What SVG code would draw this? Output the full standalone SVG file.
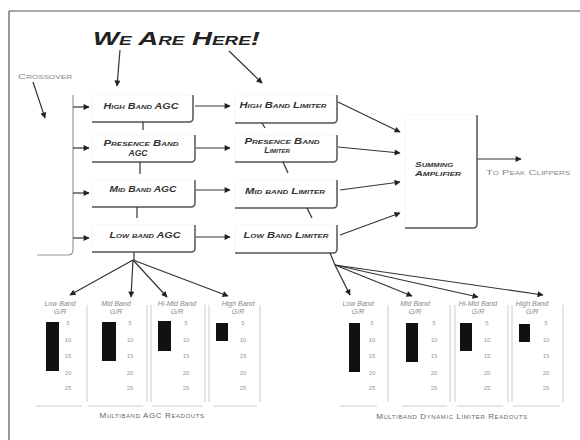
<svg xmlns="http://www.w3.org/2000/svg" width="580" height="440" viewBox="0 0 580 440">
<defs>
<marker id="ah" viewBox="0 0 10 10" refX="9" refY="5" markerWidth="7" markerHeight="6" orient="auto" markerUnits="userSpaceOnUse">
<path d="M0,0 L10,5 L0,10 z" fill="#222"/>
</marker>
<style>
.lbl{font-family:"Liberation Sans",Arial,sans-serif;font-weight:bold;font-style:italic;font-variant:small-caps;font-size:8.5px;fill:#333;text-anchor:middle}
.face{fill:#fff;stroke:#f0f0f0;stroke-width:0.6}
.edge{fill:none;stroke:#555;stroke-width:1.5}
.con{fill:none;stroke:#333;stroke-width:1.2}
.conA{fill:none;stroke:#333;stroke-width:1.2;marker-end:url(#ah)}
.gray{font-family:"Liberation Sans",Arial,sans-serif;font-variant:small-caps;fill:#888}
.rt{font-family:"Liberation Sans",Arial,sans-serif;font-style:italic;font-size:7px;fill:#888;text-anchor:middle}
.num{font-family:"Liberation Sans",Arial,sans-serif;font-size:6px;fill:#999;text-anchor:middle}
.bar{fill:#111}
.sep{stroke:#ccc;stroke-width:1}
.cap{font-family:"Liberation Sans",Arial,sans-serif;font-variant:small-caps;font-size:8px;fill:#666;text-anchor:middle;letter-spacing:0.6px}
</style>
</defs>
<rect width="580" height="440" fill="#fff"/>
<g id="frame">
<line x1="9" y1="11" x2="580" y2="11" stroke="#555" stroke-width="1.2"/>
<line x1="9" y1="11" x2="9" y2="440" stroke="#555" stroke-width="1.2"/>
</g>
<g id="title">
<text x="93" y="45" textLength="167" lengthAdjust="spacingAndGlyphs" style="font-family:'Liberation Sans',Arial,sans-serif;font-weight:bold;font-style:italic;font-variant:small-caps;font-size:19px;fill:#222">We Are Here!</text>
</g>
<g id="crossover-label">
<text class="gray" x="18" y="79" font-size="7" textLength="54" lengthAdjust="spacingAndGlyphs">Crossover</text>
</g>
<g id="crossover-bracket">
<path d="M73,95 V250 Q73,255 68,255 H37" fill="none" stroke="#999" stroke-width="1.2"/>
</g>
<g id="agc-high">
<rect class="face" x="92" y="95" width="101" height="27" rx="3"/>
<path class="edge" d="M193,95 V118 Q193,122 189,122 H92"/>
<text class="lbl" x="141" y="109" textLength="75" lengthAdjust="spacingAndGlyphs">High Band AGC</text>
</g>
<g id="agc-presence">
<rect class="face" x="92" y="135" width="103" height="27" rx="3"/>
<path class="edge" d="M195,135 V158 Q195,162 191,162 H92"/>
<text class="lbl" x="141" y="146" textLength="75" lengthAdjust="spacingAndGlyphs">Presence Band</text>
<text class="lbl" x="138" y="156">AGC</text>
</g>
<g id="agc-mid">
<rect class="face" x="92" y="180" width="103" height="27" rx="3"/>
<path class="edge" d="M195,180 V203 Q195,207 191,207 H92"/>
<text class="lbl" x="143" y="192" textLength="67" lengthAdjust="spacingAndGlyphs">Mid Band AGC</text>
</g>
<g id="agc-low">
<rect class="face" x="92" y="225" width="103" height="27" rx="3"/>
<path class="edge" d="M195,225 V248 Q195,252 191,252 H92"/>
<text class="lbl" x="145" y="238" textLength="71" lengthAdjust="spacingAndGlyphs">Low band AGC</text>
</g>
<g id="lim-high">
<rect class="face" x="235" y="95" width="102" height="28" rx="3"/>
<path class="edge" d="M337,95 V119 Q337,123 333,123 H235"/>
<text class="lbl" x="283" y="108" textLength="87" lengthAdjust="spacingAndGlyphs">High Band Limiter</text>
</g>
<g id="lim-presence">
<rect class="face" x="235" y="135" width="102" height="27" rx="3"/>
<path class="edge" d="M337,135 V158 Q337,162 333,162 H235"/>
<text class="lbl" x="282" y="144" textLength="75" lengthAdjust="spacingAndGlyphs">Presence Band</text>
<text class="lbl" x="277" y="153">Limiter</text>
</g>
<g id="lim-mid">
<rect class="face" x="235" y="180" width="102" height="28" rx="3"/>
<path class="edge" d="M337,180 V204 Q337,208 333,208 H235"/>
<text class="lbl" x="285" y="194" textLength="80" lengthAdjust="spacingAndGlyphs">Mid band Limiter</text>
</g>
<g id="lim-low">
<rect class="face" x="235" y="225" width="102" height="28" rx="3"/>
<path class="edge" d="M337,225 V249 Q337,253 333,253 H235"/>
<text class="lbl" x="286" y="238" textLength="85" lengthAdjust="spacingAndGlyphs">Low Band Limiter</text>
</g>
<g id="summing">
<rect class="face" x="405" y="115" width="72" height="113" rx="3"/>
<path class="edge" d="M477,115 V224 Q477,228 473,228 H405"/>
<text class="lbl" x="415" y="167" style="text-anchor:start;font-size:8px" textLength="38" lengthAdjust="spacingAndGlyphs">Summing</text>
<text class="lbl" x="415" y="176" style="text-anchor:start;font-size:8px" textLength="46" lengthAdjust="spacingAndGlyphs">Amplifier</text>
</g>
<g id="peak-label">
<text class="gray" x="486" y="175" font-size="7" textLength="84" lengthAdjust="spacingAndGlyphs">To Peak Clippers</text>
</g>
<g id="connectors">
<line class="conA" x1="120" y1="50" x2="117" y2="86"/>
<line class="conA" x1="229" y1="51" x2="262" y2="83"/>
<line class="conA" x1="33" y1="82" x2="45" y2="118"/>
<line class="conA" x1="73" y1="107" x2="89" y2="107"/>
<line class="conA" x1="73" y1="148" x2="89" y2="148"/>
<line class="conA" x1="73" y1="193" x2="89" y2="193"/>
<line class="conA" x1="73" y1="238" x2="89" y2="238"/>
<line class="conA" x1="195" y1="106" x2="230" y2="106"/>
<line class="conA" x1="196" y1="148" x2="230" y2="148"/>
<line class="conA" x1="196" y1="190" x2="230" y2="190"/>
<line class="conA" x1="196" y1="237" x2="230" y2="237"/>
<line class="con" x1="143" y1="122" x2="143" y2="130"/>
<line class="con" x1="140" y1="162" x2="140" y2="174"/>
<line class="con" x1="137" y1="207" x2="137" y2="218"/>
<line class="con" x1="134" y1="252" x2="134" y2="260"/>
<line class="con" x1="262" y1="123" x2="265" y2="128"/>
<line class="con" x1="283" y1="162" x2="288" y2="173"/>
<line class="con" x1="307" y1="208" x2="312" y2="218"/>
<line class="con" x1="330" y1="253" x2="335" y2="265"/>
<line class="conA" x1="338" y1="102" x2="400" y2="132"/>
<line class="conA" x1="338" y1="147" x2="400" y2="153"/>
<line class="conA" x1="340" y1="190" x2="400" y2="182"/>
<line class="conA" x1="340" y1="235" x2="400" y2="213"/>
<line class="conA" x1="477" y1="159" x2="521" y2="159"/>
<line class="conA" x1="133" y1="260" x2="70" y2="295"/>
<line class="conA" x1="133" y1="260" x2="131" y2="297"/>
<line class="conA" x1="133" y1="260" x2="167" y2="297"/>
<line class="conA" x1="133" y1="260" x2="228" y2="296"/>
<line class="conA" x1="335" y1="265" x2="350" y2="295"/>
<line class="conA" x1="335" y1="265" x2="412" y2="296"/>
<line class="conA" x1="335" y1="265" x2="478" y2="297"/>
<line class="conA" x1="335" y1="265" x2="543" y2="295"/>
</g>
<g id="agc-readouts">
<g id="agc-r-low">
<text class="rt" x="60" y="306">Low Band</text><text class="rt" x="60" y="314">G/R</text>
<rect class="bar" x="46" y="322" width="13" height="49"/>
<text class="num" x="68" y="325">5</text><text class="num" x="68" y="342">10</text><text class="num" x="68" y="358">15</text><text class="num" x="68" y="375">20</text><text class="num" x="68" y="390">25</text>
<line class="sep" x1="87" y1="305" x2="87" y2="402"/>
<line class="sep" x1="36" y1="406" x2="82" y2="406"/>
</g>
<g id="agc-r-mid">
<text class="rt" x="116" y="306">Mid Band</text><text class="rt" x="116" y="314">G/R</text>
<rect class="bar" x="102" y="322" width="14" height="39"/>
<text class="num" x="130" y="325">5</text><text class="num" x="130" y="342">10</text><text class="num" x="130" y="358">15</text><text class="num" x="130" y="375">20</text><text class="num" x="130" y="390">25</text>
<line class="sep" x1="147" y1="305" x2="147" y2="402"/>
<line class="sep" x1="88" y1="406" x2="143" y2="406"/>
</g>
<g id="agc-r-himid">
<text class="rt" x="177" y="306">Hi-Mid Band</text><text class="rt" x="177" y="314">G/R</text>
<rect class="bar" x="158" y="321" width="13" height="30"/>
<text class="num" x="186" y="325">5</text><text class="num" x="186" y="342">10</text><text class="num" x="186" y="358">15</text><text class="num" x="186" y="375">20</text><text class="num" x="186" y="390">25</text>
<line class="sep" x1="151" y1="305" x2="151" y2="402"/>
<line class="sep" x1="205" y1="305" x2="205" y2="402"/>
<line class="sep" x1="152" y1="406" x2="202" y2="406"/>
</g>
<g id="agc-r-high">
<text class="rt" x="238" y="306">High Band</text><text class="rt" x="238" y="314">G/R</text>
<rect class="bar" x="216" y="323" width="12" height="18"/>
<text class="num" x="243" y="325">5</text><text class="num" x="243" y="342">10</text><text class="num" x="243" y="358">15</text><text class="num" x="243" y="375">20</text><text class="num" x="243" y="390">25</text>
<line class="sep" x1="209" y1="305" x2="209" y2="402"/>
<line class="sep" x1="260" y1="305" x2="260" y2="402"/>
<line class="sep" x1="213" y1="406" x2="257" y2="406"/>
</g>
<text class="cap" x="152" y="418">Multiband AGC Readouts</text>
</g>
<g id="limiter-readouts">
<g id="lim-r-low">
<text class="rt" x="358" y="306">Low Band</text><text class="rt" x="358" y="314">G/R</text>
<rect class="bar" x="349" y="323" width="11" height="49"/>
<text class="num" x="372" y="325">5</text><text class="num" x="372" y="342">10</text><text class="num" x="372" y="358">15</text><text class="num" x="372" y="375">20</text><text class="num" x="372" y="390">25</text>
<line class="sep" x1="388" y1="305" x2="388" y2="402"/>
<line class="sep" x1="340" y1="406" x2="377" y2="406"/>
</g>
<g id="lim-r-mid">
<text class="rt" x="415" y="306">Mid Band</text><text class="rt" x="415" y="314">G/R</text>
<rect class="bar" x="406" y="323" width="12" height="39"/>
<text class="num" x="434" y="325">5</text><text class="num" x="434" y="342">10</text><text class="num" x="434" y="358">15</text><text class="num" x="434" y="375">20</text><text class="num" x="434" y="390">25</text>
<line class="sep" x1="450" y1="305" x2="450" y2="402"/>
<line class="sep" x1="402" y1="406" x2="447" y2="406"/>
</g>
<g id="lim-r-himid">
<text class="rt" x="478" y="306">Hi-Mid Band</text><text class="rt" x="478" y="314">G/R</text>
<rect class="bar" x="460" y="323" width="12" height="28"/>
<text class="num" x="487" y="325">5</text><text class="num" x="487" y="342">10</text><text class="num" x="487" y="358">15</text><text class="num" x="487" y="375">20</text><text class="num" x="487" y="390">25</text>
<line class="sep" x1="455" y1="305" x2="455" y2="402"/>
<line class="sep" x1="508" y1="305" x2="508" y2="402"/>
<line class="sep" x1="457" y1="406" x2="503" y2="406"/>
</g>
<g id="lim-r-high">
<text class="rt" x="532" y="306">High Band</text><text class="rt" x="532" y="314">G/R</text>
<rect class="bar" x="519" y="324" width="11" height="18"/>
<text class="num" x="546" y="325">5</text><text class="num" x="546" y="342">10</text><text class="num" x="546" y="358">15</text><text class="num" x="546" y="375">20</text><text class="num" x="546" y="390">25</text>
<line class="sep" x1="512" y1="305" x2="512" y2="402"/>
<line class="sep" x1="563" y1="305" x2="563" y2="402"/>
<line class="sep" x1="513" y1="406" x2="560" y2="406"/>
</g>
<text class="cap" x="452" y="419">Multiband Dynamic Limiter Readouts</text>
</g>
</svg>
